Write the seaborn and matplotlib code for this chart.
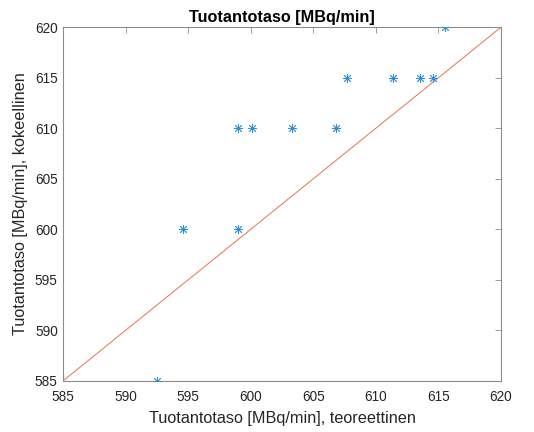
import matplotlib
matplotlib.use("Agg")
import matplotlib.pyplot as plt
import seaborn as sns
import pandas as pd

teoreettinen = [592.5, 594.6, 599.0, 599.0, 600.1, 603.3, 606.8, 607.7, 611.4, 613.5, 614.6, 615.5]
kokeellinen = [585, 600, 600, 610, 610, 610, 610, 615, 615, 615, 615, 620]
ref_line = [585, 620]
xticks = [585, 590, 595, 600, 605, 610, 615, 620]
yticks = [585, 590, 595, 600, 605, 610, 615, 620]

sns.set_style("white")
plt.rcParams['font.family'] = ['Liberation Sans', 'DejaVu Sans']

df = pd.DataFrame({"x": teoreettinen, "y": kokeellinen})
ln = pd.DataFrame({"x": ref_line, "y": ref_line})

fig = plt.figure(figsize=(5.34, 4.32), dpi=100)
ax = fig.add_axes([0.1185, 0.1188, 0.938 - 0.1185, 0.9368 - 0.1188])

sns.scatterplot(data=df, x="x", y="y", ax=ax, marker=(8, 2, 0), s=36,
                color="#2f8fd6", linewidth=0.6, edgecolor="#2f8fd6", zorder=3)
sns.lineplot(data=ln, x="x", y="y", ax=ax, color="#e8744a", linewidth=0.7, zorder=2)

ax.set_xlim(585, 620)
ax.set_ylim(585, 620)
ax.set_xticks(xticks)
ax.set_yticks(yticks)
axcol = "#262626"
ax.tick_params(direction="in", length=4, width=0.6, labelsize=9.8,
               top=True, right=True, labelcolor=axcol, color="#8c8c8c")
ax.tick_params(axis='x', pad=7)
ax.tick_params(axis='y', pad=4)
for sp in ax.spines.values():
    sp.set_visible(True)
    sp.set_color("#8c8c8c")
    sp.set_linewidth(0.8)

ax.set_xlabel("Tuotantotaso [MBq/min], teoreettinen", fontsize=11.7, color=axcol, labelpad=5)
ax.set_ylabel("Tuotantotaso [MBq/min], kokeellinen", fontsize=11.7, color=axcol, labelpad=5)
ax.set_title("Tuotantotaso [MBq/min]", fontsize=11.7, fontweight="bold", color="black", pad=4)

fig.savefig("out.png", dpi=100, facecolor="white")
